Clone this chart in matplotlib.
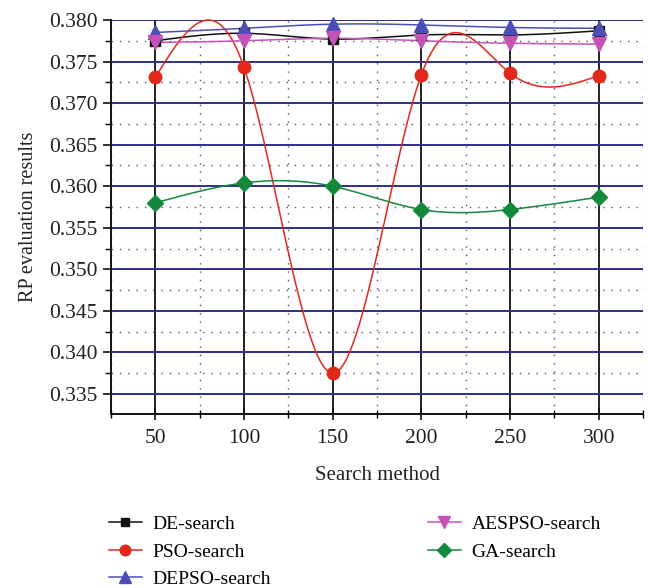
import numpy as np
import matplotlib
matplotlib.use("Agg")
import matplotlib.pyplot as plt
from matplotlib.ticker import MultipleLocator, FormatStrFormatter

x_vals = [50, 100, 150, 200, 250, 300]
de_search = [0.3775, 0.3784, 0.3777, 0.3782, 0.3782, 0.3787]
pso_search = [0.3731, 0.3743, 0.3375, 0.3734, 0.3736, 0.3733]
depso_search = [0.3785, 0.3790, 0.3795, 0.3794, 0.3791, 0.3790]
aespso_search = [0.3773, 0.3775, 0.3778, 0.3775, 0.3772, 0.3771]
ga_search = [0.3580, 0.3604, 0.3600, 0.3572, 0.3572, 0.3587]
labels = ["DE-search", "PSO-search", "DEPSO-search", "AESPSO-search", "GA-search"]


def natural_spline(x, y, n=400):
    x = np.asarray(x, float)
    y = np.asarray(y, float)
    m = len(x)
    h = np.diff(x)
    A = np.zeros((m, m))
    b = np.zeros(m)
    A[0, 0] = 1
    A[-1, -1] = 1
    for i in range(1, m - 1):
        A[i, i - 1] = h[i - 1]
        A[i, i] = 2 * (h[i - 1] + h[i])
        A[i, i + 1] = h[i]
        b[i] = 6 * ((y[i + 1] - y[i]) / h[i] - (y[i] - y[i - 1]) / h[i - 1])
    M = np.linalg.solve(A, b)
    xs = np.linspace(x[0], x[-1], n)
    ys = np.empty_like(xs)
    for k, xv in enumerate(xs):
        i = min(np.searchsorted(x, xv, side="right") - 1, m - 2)
        t1 = x[i + 1] - xv
        t0 = xv - x[i]
        ys[k] = (M[i] * t1 ** 3 / (6 * h[i]) + M[i + 1] * t0 ** 3 / (6 * h[i])
                 + (y[i] / h[i] - M[i] * h[i] / 6) * t1
                 + (y[i + 1] / h[i] - M[i + 1] * h[i] / 6) * t0)
    return xs, ys


plt.rcParams['font.family'] = ['Liberation Serif', 'DejaVu Serif']

fig = plt.figure(figsize=(6.48, 5.88), dpi=100)
ax = fig.add_axes([0.1713, 0.2959, 0.8210, 0.6701])

series = [
    (de_search, "#111111", "s", 7),
    (pso_search, "#e2281b", "o", 9),
    (depso_search, "#4a4fb5", "^", 10),
    (aespso_search, "#c552b6", "v", 10),
    (ga_search, "#15893b", "D", 8),
]

handles = []
for (vals, col, mk, ms), lab in zip(series, labels):
    xs, ys = natural_spline(x_vals, vals)
    ax.plot(xs, ys, color=col, lw=1.1, zorder=3, clip_on=False)
    ax.plot(x_vals, vals, linestyle="none", marker=mk, color=col, ms=ms,
            zorder=4, clip_on=False)
    h, = ax.plot([], [], color=col, marker=mk, ms=ms * 0.85, lw=1.1, label=lab)
    handles.append(h)

ax.set_xlim(25, 325)
ax.set_ylim(0.3326, 0.380)
ax.xaxis.set_major_locator(MultipleLocator(50))
ax.xaxis.set_minor_locator(MultipleLocator(25))
ax.yaxis.set_major_locator(MultipleLocator(0.005))
ax.yaxis.set_minor_locator(MultipleLocator(0.0025))
ax.yaxis.set_major_formatter(FormatStrFormatter('%.3f'))

ax.grid(True, which='major', axis='y', color='#2e2e85', lw=1.4, zorder=1)
ax.grid(True, which='major', axis='x', color='#222222', lw=1.4, zorder=1)
ax.grid(True, which='minor', axis='both', color='#555555', lw=1.0,
        linestyle=(0, (1, 5)), zorder=1)

for s in ['top', 'right']:
    ax.spines[s].set_visible(False)
for s in ['left', 'bottom']:
    ax.spines[s].set_linewidth(1.4)
    ax.spines[s].set_color('#111111')

ax.tick_params(axis='both', which='major', labelsize=15.5, length=6, width=1.2,
               direction='out', colors='#111111', labelcolor='#222222')
ax.tick_params(axis='x', which='major', direction='inout', length=8)
ax.tick_params(axis='x', which='minor', direction='inout', length=6, width=1.0)
ax.tick_params(axis='y', which='minor', direction='out', length=4, width=1.0)
ax.tick_params(axis='x', which='major', pad=7)

ax.set_xlabel("Search method", fontsize=15, color='#222222', labelpad=13)
ax.set_ylabel("RP evaluation results", fontsize=14.5, color='#222222', labelpad=8)

fig.legend(handles=handles, loc='upper left', bbox_to_anchor=(0.168, 0.123),
           ncol=2, frameon=False, fontsize=14, handlelength=1.7,
           handletextpad=0.55, columnspacing=8.05, labelspacing=0.5,
           borderpad=0, borderaxespad=0)

fig.savefig("out.png", dpi=100)
